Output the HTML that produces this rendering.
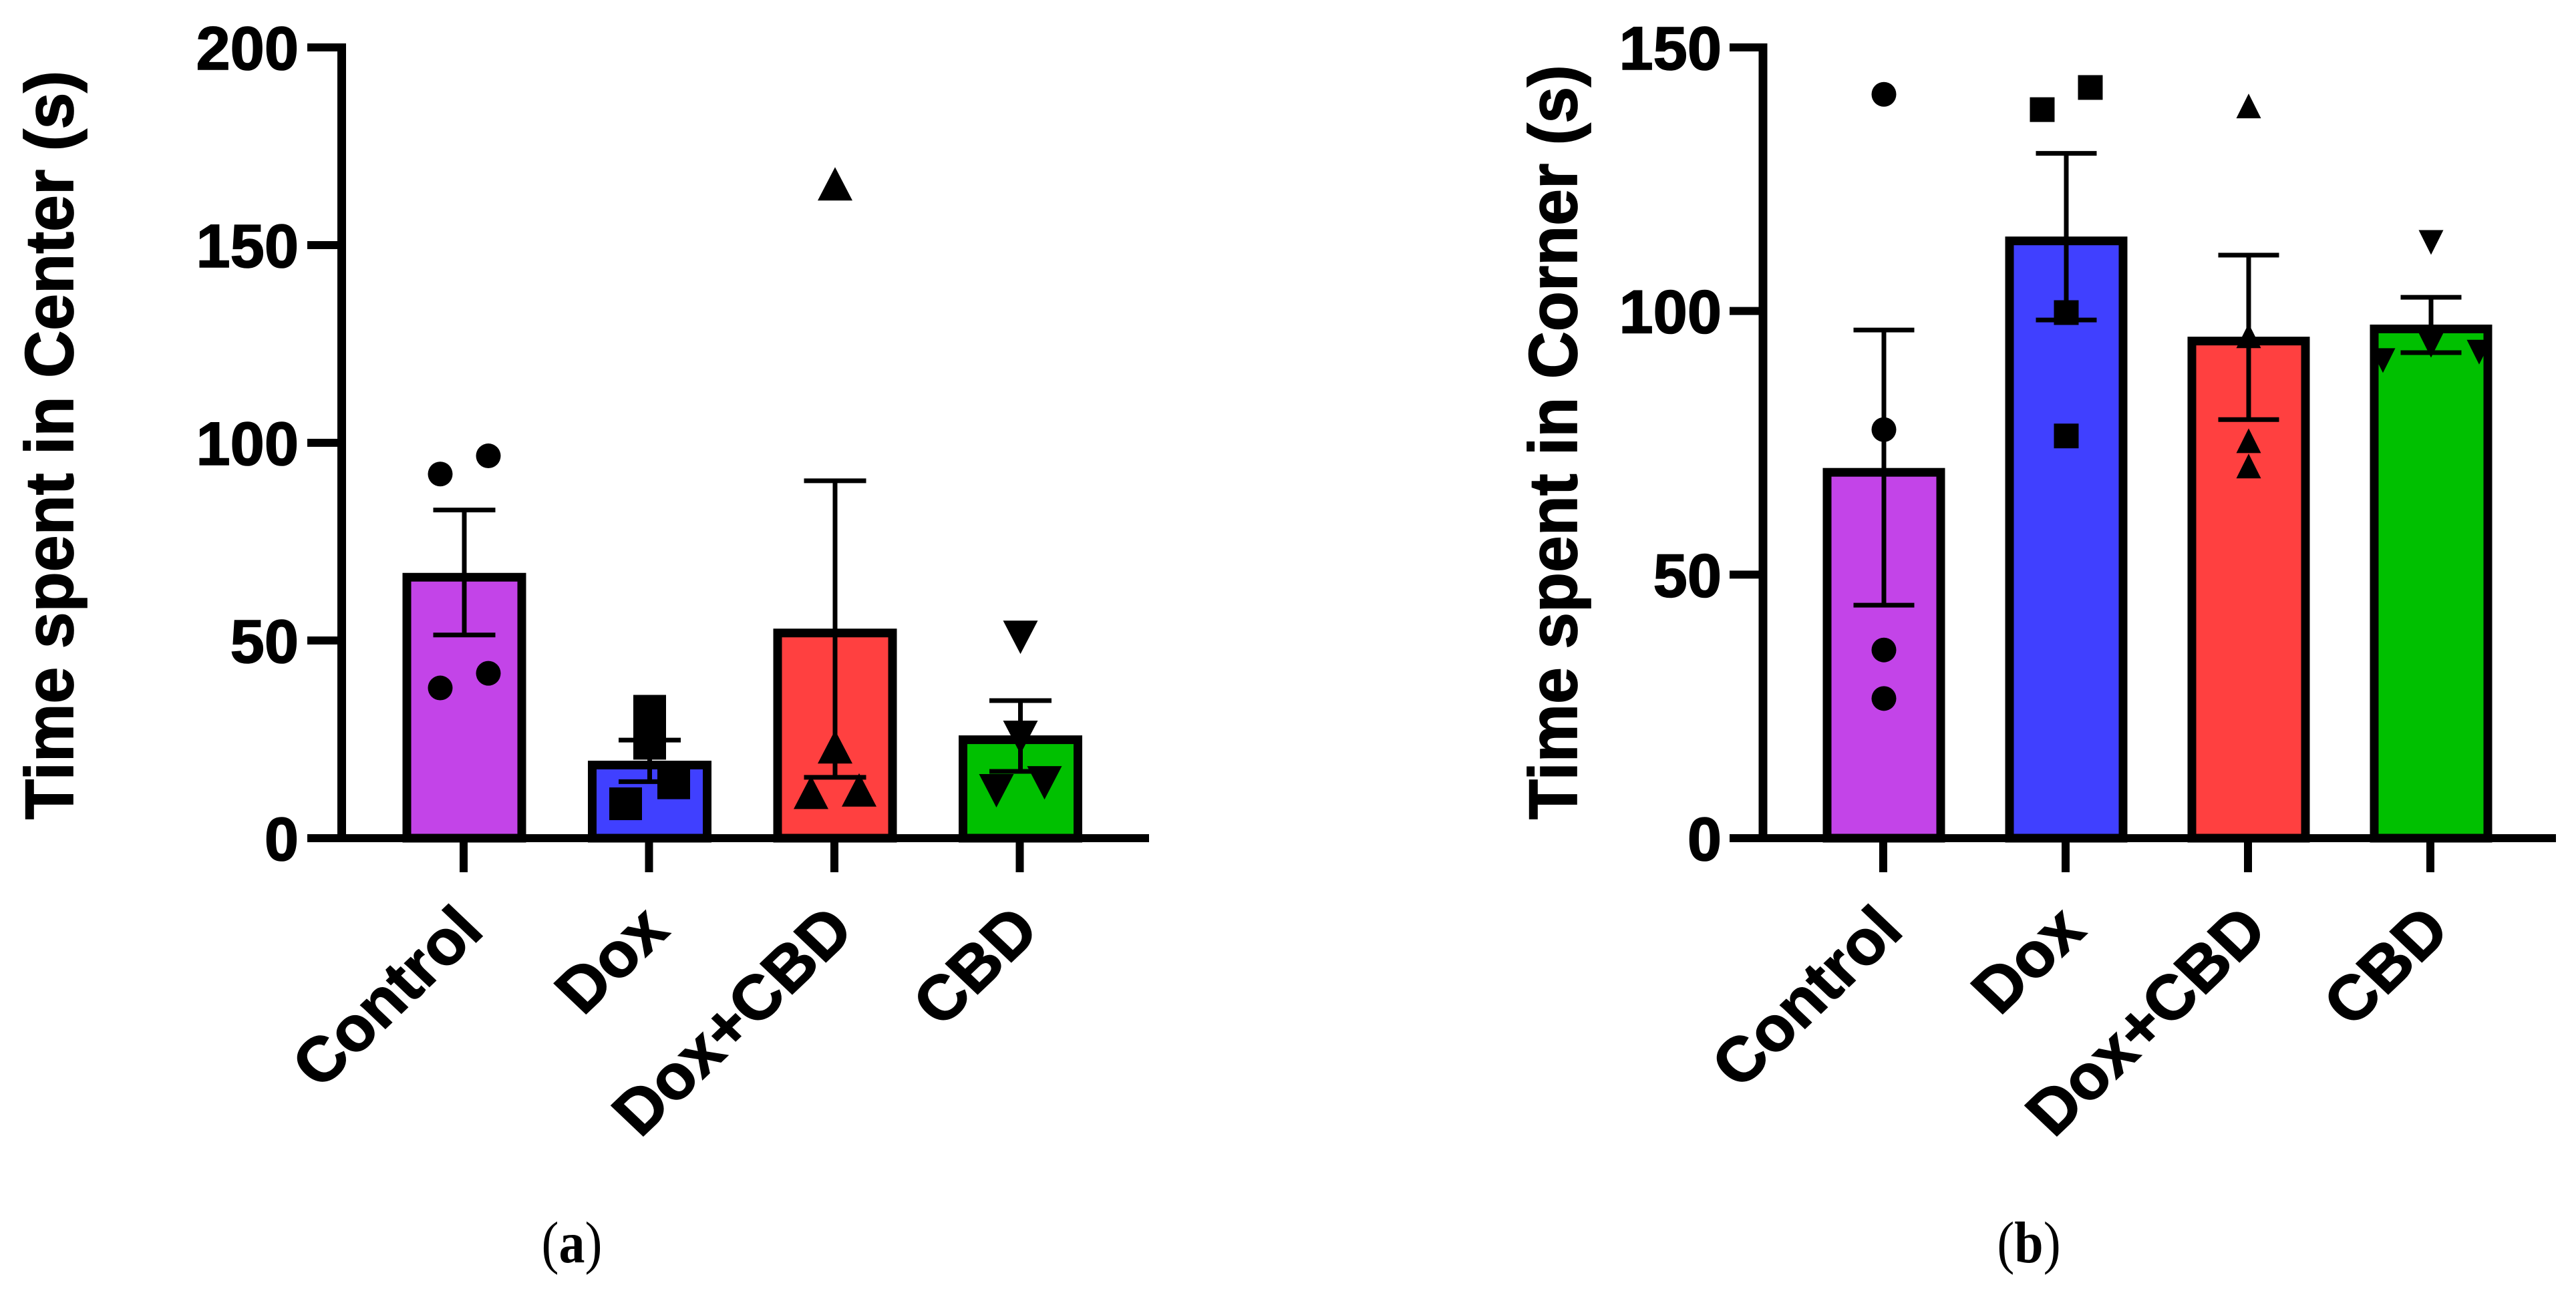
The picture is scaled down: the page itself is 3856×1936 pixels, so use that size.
<!DOCTYPE html>
<html lang="en">
<head>
<meta charset="utf-8">
<title>Time spent in Center and Corner</title>
<style>
html,body{margin:0;padding:0;background:#fff;}
body{width:3856px;height:1936px;overflow:hidden;}
svg{display:block;}
text{fill:#000;}
.sans{font-family:"Liberation Sans",Arial,sans-serif;font-weight:700;stroke:#000;stroke-width:1.6px;}
.serif{font-family:"Liberation Serif","Times New Roman",serif;}
</style>
</head>
<body>
<svg id="figure" xmlns="http://www.w3.org/2000/svg" width="3856" height="1936" viewBox="0 0 3856 1936">
  <rect x="0" y="0" width="3856" height="1936" fill="#ffffff"/>
  <g id="chart-a"></g>
  <g id="chart-b"></g>
  <text class="sans" transform="translate(109,1227) scale(1.04,1) rotate(-90)" font-size="98.6" text-anchor="start">Time spent in Center (s)</text>
  <text class="sans" transform="translate(2360,1227) scale(1.04,1) rotate(-90)" font-size="98.4" text-anchor="start">Time spent in Corner (s)</text>
  <text class="serif" transform="translate(856,1890) scale(1,1.13)" font-size="78" text-anchor="middle">(<tspan font-weight="700">a</tspan>)</text>
  <text class="serif" transform="translate(3037,1890) scale(1,1.13)" font-size="78" text-anchor="middle">(<tspan font-weight="700">b</tspan>)</text>
</svg>
<script>
const categories = ['Control', 'Dox', 'Dox+CBD', 'CBD'];
const barColors = ['#C344E8', '#4040FF', '#FF4040', '#00C000'];
const markerShapes = ['circle', 'square', 'triangle', 'inverted'];

const centerTicks = [0, 50, 100, 150, 200];
const centerMeans = [66, 18.5, 51.9, 24.9];
const centerErrUpper = [83, 24.8, 90.4, 34.8];
const centerErrLower = [51.4, 14.3, 15.4, 16.9];
const centerPoints = [
  [92.1, 96.7, 38, 41.7],
  [32.1, 24, 14, 8.7],
  [165.5, 23.1, 11.6, 12.2],
  [50.8, 25.5, 14, 12]
];
const centerSlots = [
  [-1, 1, -1, 1],
  [0, 0, 1, -1],
  [0, 0, -1, 1],
  [0, 0, 1, -1]
];

const cornerTicks = [0, 50, 100, 150];
const cornerMeans = [69.4, 113.3, 94.3, 96.6];
const cornerErrUpper = [96.4, 129.9, 110.6, 102.6];
const cornerErrLower = [44.2, 98.3, 79.4, 92.1];
const cornerPoints = [
  [141.1, 77.5, 35.7, 26.5],
  [138.2, 142.4, 99.7, 76.3],
  [138.9, 95.3, 75.4, 70.6],
  [113, 93.5, 92.2, 90.6]
];
const cornerSlots = [
  [0, 0, 0, 0],
  [-1, 1, 0, 0],
  [0, 0, 0, 0],
  [0, 0, 2, -2]
];

const NS = 'http://www.w3.org/2000/svg';

function make(tag, parent, props) {
  const el = document.createElementNS(NS, tag);
  for (const k in props) el.setAttribute(k, props[k]);
  parent.appendChild(el);
  return el;
}

function drawMarker(parent, shape, cx, cy, size) {
  const w = size[shape][0], h = size[shape][1];
  let el;
  if (shape === 'circle') {
    el = make('circle', parent, {cx: cx, cy: cy, r: w / 2, fill: '#000'});
  } else if (shape === 'square') {
    el = make('rect', parent, {x: cx - w / 2, y: cy - h / 2, width: w, height: h, fill: '#000'});
  } else if (shape === 'triangle') {
    el = make('polygon', parent, {points: (cx) + ',' + (cy - h / 2) + ' ' + (cx + w / 2) + ',' + (cy + h / 2) + ' ' + (cx - w / 2) + ',' + (cy + h / 2), fill: '#000'});
  } else {
    el = make('polygon', parent, {points: (cx) + ',' + (cy + h / 2) + ' ' + (cx + w / 2) + ',' + (cy - h / 2) + ' ' + (cx - w / 2) + ',' + (cy - h / 2), fill: '#000'});
  }
  return el;
}

function drawChart(root, cfg) {
  const yScale = function (v) { return cfg.y0 - v * (cfg.y0 - cfg.yTop) / cfg.yMax; };
  const xScale = function (i) { return cfg.x0 + i * cfg.step; };
  const maxTick = cfg.ticks[cfg.ticks.length - 1];

  cfg.means.forEach(function (m, i) {
    const bar = make('rect', root, {x: xScale(i) - cfg.barW / 2, y: yScale(m), width: cfg.barW, height: cfg.y0 - yScale(m), fill: barColors[i], stroke: '#000', 'stroke-width': 13});
    
    
  });

  const yAxis = make('line', root, {x1: cfg.axisX, x2: cfg.axisX, y1: yScale(maxTick) - 6, y2: cfg.y0 + 6, stroke: '#000', 'stroke-width': 13});
  
  

  const xAxis = make('line', root, {x1: cfg.axisLeft, x2: cfg.axisRight, y1: cfg.y0, y2: cfg.y0, stroke: '#000', 'stroke-width': 12});
  
  

  cfg.ticks.forEach(function (t) {
    const tick = make('line', root, {x1: cfg.axisLeft, x2: cfg.axisX, y1: yScale(t), y2: yScale(t), stroke: '#000', 'stroke-width': 12});
    
    
    const label = make('text', root, {x: cfg.labelRight, y: yScale(t) + 33, 'font-size': 92, 'text-anchor': 'end', class: 'sans'});
    label.textContent = String(t);
    
    
  });

  categories.forEach(function (c, i) {
    const tick = make('line', root, {x1: xScale(i) - 1, x2: xScale(i) - 1, y1: cfg.y0, y2: 1306, stroke: '#000', 'stroke-width': 12});
    
    
    const label = make('text', root, {transform: 'translate(' + (xScale(i) + 32) + ',1397) scale(1.05,1) rotate(-45)', 'font-size': 94, 'text-anchor': 'end', class: 'sans'});
    label.textContent = c;
    
    
  });

  cfg.means.forEach(function (m, i) {
    const x = xScale(i);
    const stem = make('line', root, {x1: x, x2: x, y1: yScale(cfg.errUpper[i]), y2: yScale(cfg.errLower[i]), stroke: '#000', 'stroke-width': 7});
    
    
    const capTop = make('line', root, {x1: x - cfg.capW / 2, x2: x + cfg.capW / 2, y1: yScale(cfg.errUpper[i]), y2: yScale(cfg.errUpper[i]), stroke: '#000', 'stroke-width': 7});
    
    
    const capBottom = make('line', root, {x1: x - cfg.capW / 2, x2: x + cfg.capW / 2, y1: yScale(cfg.errLower[i]), y2: yScale(cfg.errLower[i]), stroke: '#000', 'stroke-width': 7});
    
    
  });

  cfg.points.forEach(function (group, i) {
    group.forEach(function (v, j) {
      const mark = drawMarker(root, markerShapes[i], xScale(i) + cfg.slots[i][j] * 36, yScale(v), cfg.markerSize);
      
      
    });
  });
}

drawChart(document.getElementById('chart-a'), {
  ticks: centerTicks, means: centerMeans, errUpper: centerErrUpper, errLower: centerErrLower,
  points: centerPoints, slots: centerSlots, yMax: 200, y0: 1255, yTop: 71,
  x0: 695, step: 277.5, barW: 172, capW: 93, axisX: 511.5, axisLeft: 460, axisRight: 1720, labelRight: 447,
  markerSize: {circle: [37, 37], square: [49, 49], triangle: [52, 50], inverted: [52, 50]}
});

drawChart(document.getElementById('chart-b'), {
  ticks: cornerTicks, means: cornerMeans, errUpper: cornerErrUpper, errLower: cornerErrLower,
  points: cornerPoints, slots: cornerSlots, yMax: 150, y0: 1255, yTop: 71,
  x0: 2820, step: 273, barW: 170, capW: 91, axisX: 2639, axisLeft: 2589, axisRight: 3826, labelRight: 2577,
  markerSize: {circle: [37, 37], square: [37, 37], triangle: [37, 37], inverted: [37, 37]}
});
</script>
</body>
</html>
